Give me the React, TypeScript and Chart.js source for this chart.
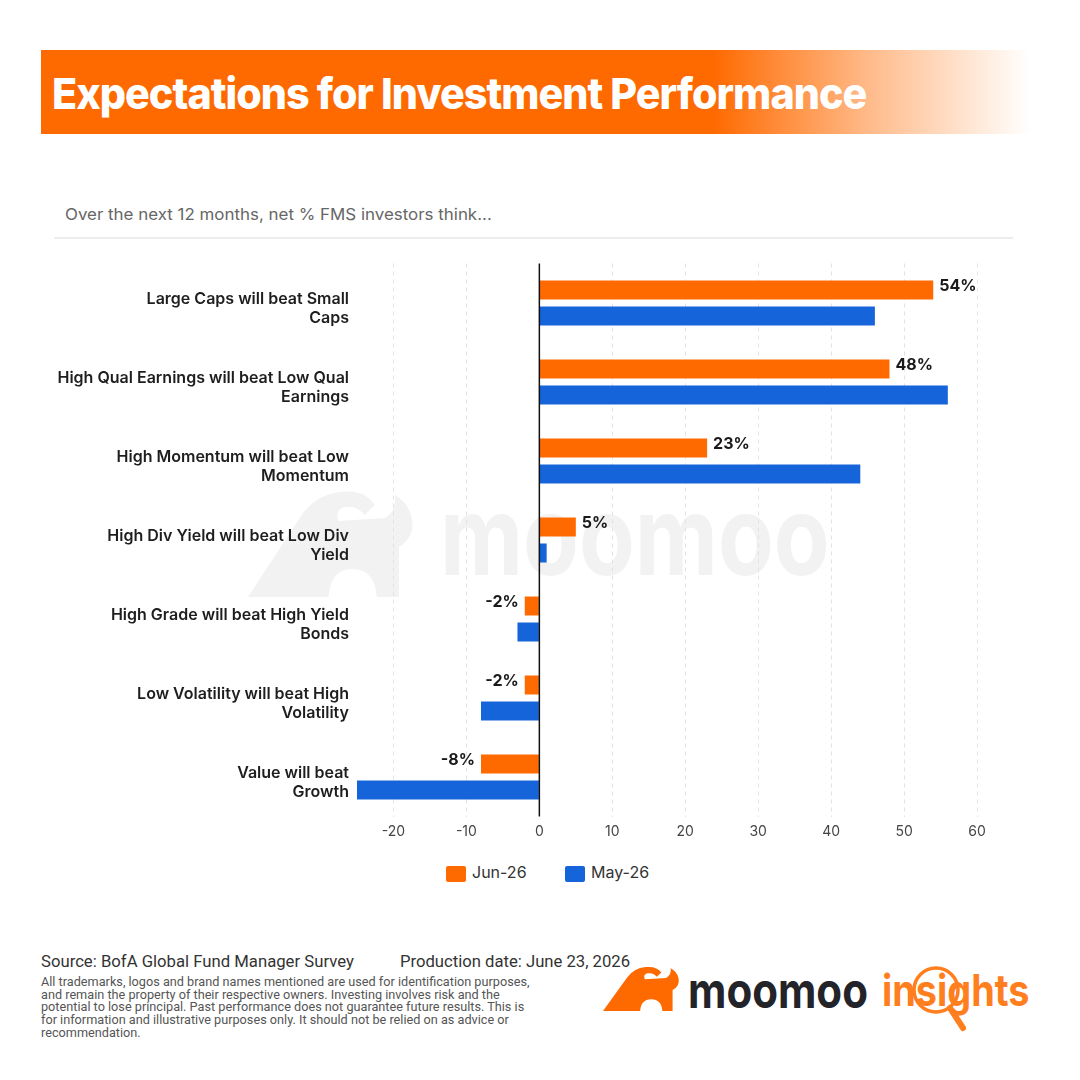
import React, { useEffect, useLayoutEffect, useRef, useState } from "react";
import { Chart, registerables } from "chart.js";

Chart.register(...registerables);

const categories: string[][] = [
  ["Large Caps will beat Small", "Caps"],
  ["High Qual Earnings will beat Low Qual", "Earnings"],
  ["High Momentum will beat Low", "Momentum"],
  ["High Div Yield will beat Low Div", "Yield"],
  ["High Grade will beat High Yield", "Bonds"],
  ["Low Volatility will beat High", "Volatility"],
  ["Value will beat", "Growth"],
];
const jun26 = [54, 48, 23, 5, -2, -2, -8];
const may26 = [46, 56, 44, 1, -3, -8, -25];
const xTickValues = [-20, -10, 0, 10, 20, 30, 40, 50, 60];
const seriesNames = ["Jun-26", "May-26"];
const seriesColors = ["#FF6A00", "#1664D9"];

const disclaimerLines = [
  "All trademarks, logos and brand names mentioned are used for identification purposes,",
  "and remain the property of their respective owners. Investing involves risk and the",
  "potential to lose principal. Past performance does not guarantee future results. This is",
  "for information and illustrative purposes only. It should not be relied on as advice or",
  "recommendation.",
];

function FitText(props: { text: string; width: number; style: React.CSSProperties }) {
  const ref = useRef<HTMLSpanElement>(null);
  const [scale, setScale] = useState(1);
  useLayoutEffect(() => {
    const measure = () => {
      if (ref.current) {
        const w = ref.current.offsetWidth;
        if (w > 0) setScale(props.width / w);
      }
    };
    measure();
    (document as any).fonts?.ready?.then(measure);
  }, [props.text, props.width]);
  return (
    <span
      ref={ref}
      style={{
        position: "absolute",
        whiteSpace: "nowrap",
        transformOrigin: "left center",
        transform: `scaleX(${scale})`,
        ...props.style,
      }}
    >
      {props.text}
    </span>
  );
}

const bullPath =
  "M0,110 L52,30 Q66,8 92,5 Q116,2 126,18 L116,28 Q108,18 96,20 Q86,23 90,34 L136,31 Q148,24 146,8 Q160,16 163,32 Q166,50 150,60 L150,110 L128,110 Q126,82 104,82 Q82,82 80,110 Z";

function ChartCanvas() {
  const canvasRef = useRef<HTMLCanvasElement>(null);
  useEffect(() => {
    if (!canvasRef.current) return;
    const labelPlugin = {
      id: "valueLabels",
      afterDatasetsDraw(chart: any) {
        const ctx = chart.ctx;
        const meta = chart.getDatasetMeta(0);
        ctx.save();
        ctx.font = "700 16px Inter";
        ctx.fillStyle = "#1a1a1a";
        ctx.textBaseline = "middle";
        meta.data.forEach((bar: any, i: number) => {
          const v = jun26[i];
          if (v >= 0) {
            ctx.textAlign = "left";
            ctx.fillText(v + "%", bar.x + 6, bar.y - 3.5);
          } else {
            ctx.textAlign = "right";
            ctx.fillText(v + "%", bar.x - 6, bar.y - 3.5);
          }
        });
        const x0 = chart.scales.x.getPixelForValue(0);
        ctx.strokeStyle = "#111";
        ctx.lineWidth = 1.5;
        ctx.beginPath();
        ctx.moveTo(x0, chart.chartArea.top);
        ctx.lineTo(x0, chart.chartArea.bottom);
        ctx.stroke();
        ctx.restore();
      },
    };
    const chart = new Chart(canvasRef.current, {
      type: "bar",
      data: {
        labels: categories,
        datasets: [
          {
            label: seriesNames[0],
            data: jun26,
            backgroundColor: seriesColors[0],
            barPercentage: 0.73,
            categoryPercentage: 0.66,
          },
          {
            label: seriesNames[1],
            data: may26,
            backgroundColor: seriesColors[1],
            barPercentage: 0.73,
            categoryPercentage: 0.66,
          },
        ],
      },
      options: {
        indexAxis: "y",
        responsive: false,
        animation: false,
        devicePixelRatio: 1,
        layout: { padding: { top: 13.5, right: 43, bottom: 0, left: 0 } },
        plugins: { legend: { display: false }, tooltip: { enabled: false } },
        scales: {
          x: {
            type: "linear",
            min: -25,
            max: 60,
            afterBuildTicks: (scale: any) => {
              scale.ticks = xTickValues.map((v) => ({ value: v }));
            },
            afterFit: (scale: any) => {
              scale.height = 33.5;
              scale.paddingLeft = 0;
              scale.paddingRight = 0;
            },
            grid: {
              drawTicks: false,
              color: (c: any) => (c.tick && c.tick.value === 0 ? "rgba(0,0,0,0)" : "#e2e2e2"),
              lineWidth: 1,
            },
            border: { display: false, dash: [4, 4] },
            ticks: {
              padding: 7,
              color: "#444",
              font: { family: "Inter", size: 14 },
              callback: (v: any) => String(v),
            },
          },
          y: {
            afterFit: (scale: any) => {
              scale.width = 317;
              scale.paddingTop = 0;
              scale.paddingBottom = 0;
            },
            grid: { display: false, drawTicks: false },
            border: { display: false },
            ticks: {
              padding: 8,
              labelOffset: 6,
              color: "#1e1e1e",
              font: { family: "Inter", size: 16, weight: "600", lineHeight: 1.19 },
            },
          },
        },
      },
      plugins: [labelPlugin],
    } as any);
    return () => chart.destroy();
  }, []);
  return (
    <canvas
      ref={canvasRef}
      width={980}
      height={600}
      style={{ position: "absolute", left: 40, top: 250, width: 980, height: 600 }}
    />
  );
}

export default function App() {
  return (
    <div
      style={{
        position: "absolute",
        left: 0,
        top: 0,
        width: 1080,
        height: 1080,
        background: "#fff",
        overflow: "hidden",
        fontFamily: "Inter",
      }}
    >
      {/* Title banner */}
      <div
        style={{
          position: "absolute",
          left: 41,
          top: 50,
          width: 989,
          height: 84,
          background:
            "linear-gradient(to right, #FF6A00 0%, #FF6A00 68%, rgba(255,106,0,0.45) 84%, rgba(255,106,0,0) 100%)",
        }}
      />
      <FitText
        text="Expectations for Investment Performance"
        width={814}
        style={{
          left: 52,
          top: 67,
          fontFamily: "Inter",
          fontWeight: 800,
          fontSize: 43,
          lineHeight: "52px",
          color: "#fff",
          letterSpacing: -1,
        }}
      />
      {/* Subtitle */}
      <FitText
        text="Over the next 12 months, net % FMS investors think..."
        width={427}
        style={{ left: 65, top: 203, fontSize: 16, lineHeight: "22px", color: "#666", fontFamily: "Inter" }}
      />
      <div style={{ position: "absolute", left: 54, top: 237, width: 959, height: 1.5, background: "#ececec" }} />

      {/* Watermark */}
      <svg
        style={{ position: "absolute", left: 248, top: 487 }}
        width={167}
        height={110}
        viewBox="0 0 166 110"
        preserveAspectRatio="none"
      >
        <path d={bullPath} fill="#f2f2f2" />
      </svg>
      <FitText
        text="moomoo"
        width={390}
        style={{
          left: 440,
          top: 470,
          fontFamily: "Inter",
          fontWeight: 700,
          fontSize: 110,
          lineHeight: "130px",
          color: "#f2f2f2",
        }}
      />

      <ChartCanvas />

      {/* Legend */}
      <div style={{ position: "absolute", left: 446, top: 866, width: 20, height: 16, borderRadius: 2, background: seriesColors[0] }} />
      <span style={{ position: "absolute", left: 472, top: 861, fontSize: 16, lineHeight: "22px", color: "#333" }}>
        {seriesNames[0]}
      </span>
      <div style={{ position: "absolute", left: 565, top: 866, width: 20, height: 16, borderRadius: 2, background: seriesColors[1] }} />
      <span style={{ position: "absolute", left: 591, top: 861, fontSize: 16, lineHeight: "22px", color: "#333" }}>
        {seriesNames[1]}
      </span>

      {/* Footer */}
      <FitText
        text="Source: BofA Global Fund Manager Survey"
        width={313}
        style={{ left: 41, top: 952, fontFamily: "Roboto", fontSize: 16, lineHeight: "20px", color: "#333" }}
      />
      <FitText
        text="Production date: June 23, 2026"
        width={230}
        style={{ left: 400, top: 952, fontFamily: "Roboto", fontSize: 16, lineHeight: "20px", color: "#333" }}
      />
      {disclaimerLines.map((line, i) => (
        <span
          key={i}
          style={{
            position: "absolute",
            left: 41,
            top: 975 + i * 12.7,
            fontFamily: "Roboto",
            fontSize: 12.7,
            lineHeight: "14px",
            color: "#555",
            whiteSpace: "nowrap",
            letterSpacing: 0,
          }}
        >
          {line}
        </span>
      ))}

      {/* Logo */}
      <svg
        style={{ position: "absolute", left: 603, top: 965 }}
        width={77}
        height={46}
        viewBox="0 0 166 110"
        preserveAspectRatio="none"
      >
        <path d={bullPath} fill="#FF6A00" />
      </svg>
      <FitText
        text="moomoo"
        width={180}
        style={{
          left: 688,
          top: 960,
          fontFamily: "Inter",
          fontWeight: 700,
          fontSize: 50,
          lineHeight: "60px",
          color: "#23232a",
        }}
      />
      <FitText
        text="insights"
        width={148}
        style={{
          left: 882,
          top: 960,
          fontFamily: "Inter",
          fontWeight: 700,
          fontSize: 44,
          lineHeight: "60px",
          color: "#FF7F1F",
        }}
      />
      <svg style={{ position: "absolute", left: 900, top: 960 }} width={80} height={80}>
        <circle cx={36} cy={30} r={22} fill="none" stroke="#FF7F1F" strokeWidth={3.5} />
        <line x1={50} y1={48} x2={63} y2={68} stroke="#FF7F1F" strokeWidth={6} strokeLinecap="round" />
      </svg>
    </div>
  );
}
